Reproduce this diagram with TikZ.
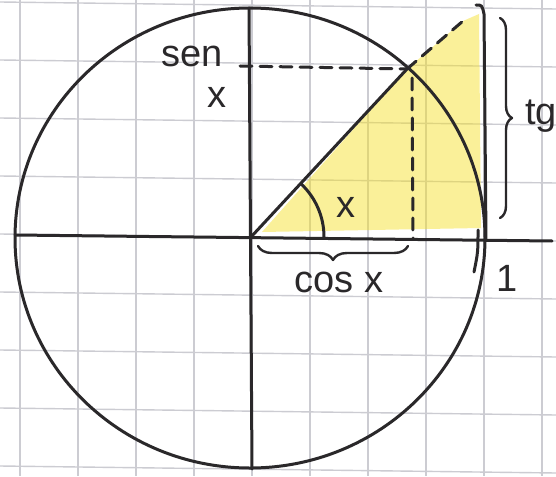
\documentclass[tikz,border=0pt]{standalone}
\usepackage{fontspec}
\setmainfont{Liberation Sans}
\usetikzlibrary{decorations.pathreplacing}
\definecolor{ink}{RGB}{42,40,42}
\definecolor{gridc}{RGB}{204,204,210}
\definecolor{hl}{RGB}{245,222,30}
\begin{document}
\begin{tikzpicture}[x=0.5pt,y=0.5pt,
  inkline/.style={draw=ink,line width=1.5pt,line cap=round,line join=round},
  dashline/.style={inkline,dash pattern=on 6pt off 4pt},
  gridline/.style={draw=gridc,line width=0.7pt},
  lbl/.style={text=ink,font=\fontsize{19}{22}\selectfont,inner sep=0pt},
  bracestyle/.style={inkline,line width=1.2pt,decorate}]
\clip (0,0) rectangle (556,-476);
\fill[white] (0,0) rectangle (556,-476);
% graph paper
\foreach \gx in {20,78,136,194,252,310,368,426,484,542}
  \draw[gridline] (\gx,0) -- (\gx,-476);
\foreach \gy in {5,63,121,179,237,295,353,411,469}
  \draw[gridline] (0,-\gy+3) -- (556,-\gy-4);
% key points
\coordinate (O) at (251,-237);
\coordinate (P) at (407,-69);
\coordinate (E) at (463,-21);
\coordinate (T0) at (476,-5);
\coordinate (T1) at (484,-14);
\coordinate (A) at (486,-240);
\coordinate (C) at (250,-238);
\coordinate (XL) at (15,-235);
\coordinate (XR) at (552,-241);
\coordinate (YT) at (249,-8);
\coordinate (YB) at (252,-469);
\coordinate (SL) at (240,-66);
\coordinate (PF) at (413,-238);
% yellow shading
\fill[hl,fill opacity=0.45] (262,-232) -- (P) -- (E) -- (479,-14) -- (481,-228) -- cycle;
% circle and axes
\draw[inkline] (C) ellipse[x radius=235,y radius=230];
\draw[inkline] (XL) -- (XR);
\draw[inkline] (YT) -- (YB);
% tangent line
\draw[inkline] (T0) .. controls (482,-5) .. (T1) -- (A);
\draw[inkline] (478,-230) .. controls (478,-252) .. (474,-272);
% radius and dashed projections
\draw[inkline] (O) -- (P);
\draw[dashline] (P) -- (E);
\draw[dashline] (SL) -- (P);
\draw[dashline] (412,-78) -- (PF);
% angle arc
\draw[inkline] (324,-237) arc[start angle=0,end angle=47,radius=73];
% braces
\draw[bracestyle,decoration={brace,mirror,amplitude=7pt}] (258,-246) -- (408,-246);
\draw[bracestyle,decoration={brace,amplitude=6pt}] (500,-18) -- (500,-218);
% labels
\node[lbl] (sen) at (192,-56) {sen};
\node[lbl] (senx) at (217,-97) {x};
\node[lbl] (ang) at (346,-207) {x};
\node[lbl] (cos) at (339,-282) {cos x};
\node[lbl] (one) at (507,-278) {1};
\node[lbl,anchor=west] (tg) at (525,-116) {tg};
\end{tikzpicture}
\end{document}
